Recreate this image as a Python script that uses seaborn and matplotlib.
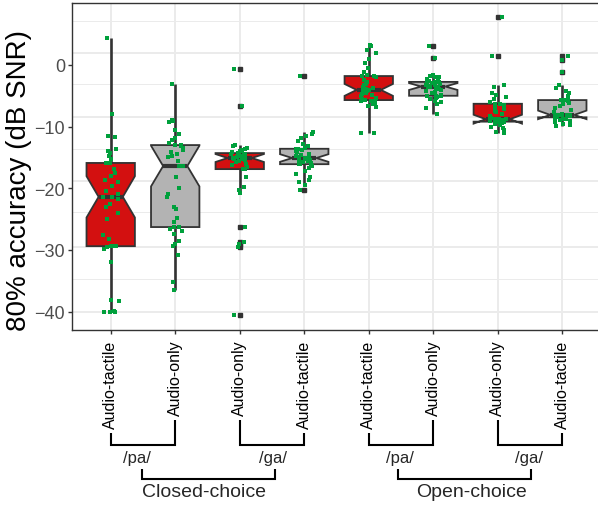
import numpy as np
import pandas as pd
import matplotlib
matplotlib.use("Agg")
import matplotlib.pyplot as plt
from matplotlib.lines import Line2D
import seaborn as sns

# groups in plotting order
groups = ["closed_pa_at", "closed_pa_ao", "closed_ga_ao", "closed_ga_at",
          "open_pa_at", "open_pa_ao", "open_ga_ao", "open_ga_at"]
tick_labels = ["Audio-tactile", "Audio-only", "Audio-only", "Audio-tactile",
               "Audio-tactile", "Audio-only", "Audio-only", "Audio-tactile"]
fills = ["#D31010", "#B3B3B3", "#D31010", "#B3B3B3",
         "#D31010", "#B3B3B3", "#D31010", "#B3B3B3"]

# 80% accuracy thresholds (dB SNR)
closed_pa_at = [-40.1, -40.1, -40.0, -39.9, -38.3, -38.1, -31.9, -29.8, -29.6,
                -29.4, -29.4, -29.3, -28.2, -27.6, -25.0, -24.0, -23.0, -22.5, -21.8,
                -21.4, -21.4, -21.0, -20.4, -19.6, -19.0, -18.6, -18.0, -17.5, -16.9,
                -15.9, -15.9, -15.2, -14.7, -14.3, -13.9, -13.7, -11.7, -11.5, -8.0, 4.3]
closed_pa_ao = [-36.5, -35.2, -30.8, -29.3, -29.1, -28.6, -27.5, -27.0, -26.6,
                -26.3, -26.3, -25.5, -24.8, -23.3, -23.0, -21.4, -20.9, -19.9, -18.1,
                -16.4, -16.4, -15.6, -15.0, -14.7, -14.4, -14.1, -13.8, -13.5, -13.2,
                -13.0, -13.0, -12.6, -12.2, -11.8, -11.2, -10.6, -9.3, -9.1, -9.0, -3.1]
closed_ga_ao = [-40.6, -29.6, -29.0, -28.8, -26.3, -20.7, -20.3, -19.8, -18.2,
                -16.9, -16.9, -16.6, -16.3, -16.0, -15.8, -15.6, -15.4, -15.3, -15.2,
                -15.1, -15.1, -15.0, -14.9, -14.8, -14.7, -14.6, -14.5, -14.4, -14.4,
                -14.3, -14.3, -14.1, -14.0, -13.8, -13.6, -13.4, -13.2, -13.0, -6.7, -0.6]
closed_ga_at = [-20.3, -19.4, -19.0, -18.6, -18.2, -17.7, -17.2, -16.8, -16.4,
                -16.1, -16.1, -16.0, -15.9, -15.8, -15.7, -15.6, -15.4, -15.3, -15.2,
                -15.1, -15.1, -15.0, -14.8, -14.6, -14.4, -14.2, -14.0, -13.8, -13.7,
                -13.6, -13.6, -13.4, -13.2, -12.8, -12.3, -11.9, -11.5, -11.2, -10.9, -1.8]
open_pa_at = [-11.1, -11.0, -6.8, -6.6, -6.3, -6.1, -5.9, -5.8, -5.8,
              -5.7, -5.7, -5.5, -5.3, -5.1, -4.9, -4.7, -4.5, -4.3, -4.2,
              -4.05, -4.05, -3.9, -3.7, -3.5, -3.3, -3.1, -2.8, -2.4, -2.0,
              -1.8, -1.8, -1.6, -1.2, -0.5, 0.3, 1.0, 2.0, 2.4, 3.1, 3.2]
open_pa_ao = [-7.9, -7.0, -6.4, -6.0, -5.8, -5.6, -5.4, -5.2, -5.1,
              -5.0, -5.0, -4.8, -4.6, -4.4, -4.2, -4.0, -3.9, -3.7, -3.6,
              -3.5, -3.5, -3.4, -3.3, -3.2, -3.1, -3.0, -2.9, -2.8, -2.8,
              -2.75, -2.75, -2.6, -2.4, -2.2, -2.0, -1.9, -1.8, -1.7, 1.2, 3.1]
open_ga_ao = [-11.0, -10.8, -10.5, -10.3, -10.0, -9.8, -9.6, -9.4, -9.3,
              -9.2, -9.2, -9.15, -9.1, -9.05, -9.0, -9.0, -8.95, -8.9, -8.85,
              -8.8, -8.8, -8.6, -8.3, -8.0, -7.7, -7.4, -7.1, -6.8, -6.5,
              -6.3, -6.3, -6.0, -5.6, -5.2, -4.9, -4.5, -3.6, -3.3, 1.4, 7.7]
open_ga_at = [-9.9, -9.7, -9.5, -9.3, -9.1, -8.9, -8.8, -8.7, -8.6,
              -8.5, -8.5, -8.45, -8.4, -8.35, -8.3, -8.25, -8.2, -8.15, -8.1,
              -8.1, -8.1, -7.9, -7.6, -7.3, -7.0, -6.7, -6.4, -6.1, -5.9,
              -5.7, -5.7, -5.4, -5.0, -4.6, -4.3, -3.8, -3.3, -1.1, 0.8, 1.5]

values = [closed_pa_at, closed_pa_ao, closed_ga_ao, closed_ga_at,
          open_pa_at, open_pa_ao, open_ga_ao, open_ga_at]

# bottom annotation: pairs, phoneme labels, task labels
pairs = [(0, 1), (2, 3), (4, 5), (6, 7)]
sub_labels = ["/pa/", "/ga/", "/pa/", "/ga/"]
sub_x = [0.41, 2.52, 4.48, 6.48]
task_spans = [(0.48, 2.54), (4.45, 6.52)]
task_labels = ["Closed-choice", "Open-choice"]
task_x = [1.45, 5.60]

# background grid (drawn slightly off the tick positions, as in the original)
grid_major = [2.0, -8.4, -18.8, -29.6, -40.0]
grid_minor = [7.1, -3.1, -13.7, -23.9, -34.8]

df = pd.DataFrame({
    "group": np.repeat(groups, [len(v) for v in values]),
    "snr": np.concatenate(values),
})

sns.set_style("white")
plt.rcParams["font.family"] = ["Liberation Sans", "DejaVu Sans"]
np.random.seed(7)

W, H = 598, 506
fig = plt.figure(figsize=(W / 100, H / 100), dpi=100)
ax = fig.add_axes([72 / W, 1 - 331 / H, 529 / W, 326.7 / H])

for g in grid_major:
    ax.axhline(g, color="#EBEBEB", lw=1.4, zorder=0)
for g in grid_minor:
    ax.axhline(g, color="#EBEBEB", lw=0.7, zorder=0)
for k in range(len(groups)):
    ax.axvline(k, color="#EBEBEB", lw=1.4, zorder=0)

edge = "#333333"
sns.boxplot(data=df, x="group", y="snr", hue="group", order=groups, hue_order=groups,
            palette=dict(zip(groups, fills)), saturation=1, width=0.75, notch=True,
            linecolor=edge, linewidth=1.3, fliersize=3.2, showcaps=False,
            flierprops=dict(marker="s", markerfacecolor=edge, markeredgecolor=edge),
            medianprops=dict(linewidth=3, color=edge), whiskerprops=dict(linewidth=1.9),
            legend=False, ax=ax)
sns.stripplot(data=df, x="group", y="snr", order=groups, color="#00A03C", marker="s",
              size=3, jitter=0.13, linewidth=0, zorder=4, ax=ax)

ax.set_xlim(-0.6, 7.6)
ax.set_ylim(-43, 10)
ax.set_yticks([0, -10, -20, -30, -40])
ax.set_xticks(range(len(groups)))
ax.set_xticklabels(tick_labels, rotation=90, fontsize=11.5, color="black")
ax.set_xlabel("")
ax.set_ylabel("80% accuracy (dB SNR)", fontsize=20, color="black")
ax.yaxis.set_label_coords(-0.076, 0.46)
ax.tick_params(axis="y", labelsize=13, labelcolor="#4D4D4D", length=3, width=1,
               color=edge, pad=2, left=True)
ax.tick_params(axis="x", length=3, width=1, color=edge, pad=4, bottom=True)
for s in ax.spines.values():
    s.set_color(edge)
    s.set_linewidth(1)

# brackets under the tick labels
fig.canvas.draw()
labs = ax.get_xticklabels()


def xpix(v):
    return ax.transData.transform((v, 0))[0]


def add_line(xs, ys_top):
    # xs in display px, ys given from the top of the image in px
    fig.add_artist(Line2D([x / W for x in xs], [1 - y / H for y in ys_top],
                          transform=fig.transFigure, color="black", lw=1.5,
                          solid_joinstyle="miter", solid_capstyle="butt"))


for (i, j), lab, lx in zip(pairs, sub_labels, sub_x):
    top_i = H - labs[i].get_window_extent().y0 + 5
    top_j = H - labs[j].get_window_extent().y0 + 5
    add_line([xpix(i), xpix(i), xpix(j), xpix(j)], [top_i, 446, 446, top_j])
    fig.text(xpix(lx) / W, 1 - 459 / H, lab, ha="center", va="center", fontsize=12)

for (a, b), lab, lx in zip(task_spans, task_labels, task_x):
    add_line([xpix(a), xpix(a), xpix(b), xpix(b)], [470, 480, 480, 470])
    fig.text(xpix(lx) / W, 1 - 493 / H, lab, ha="center", va="center", fontsize=14)

fig.savefig("out.png", dpi=100)
